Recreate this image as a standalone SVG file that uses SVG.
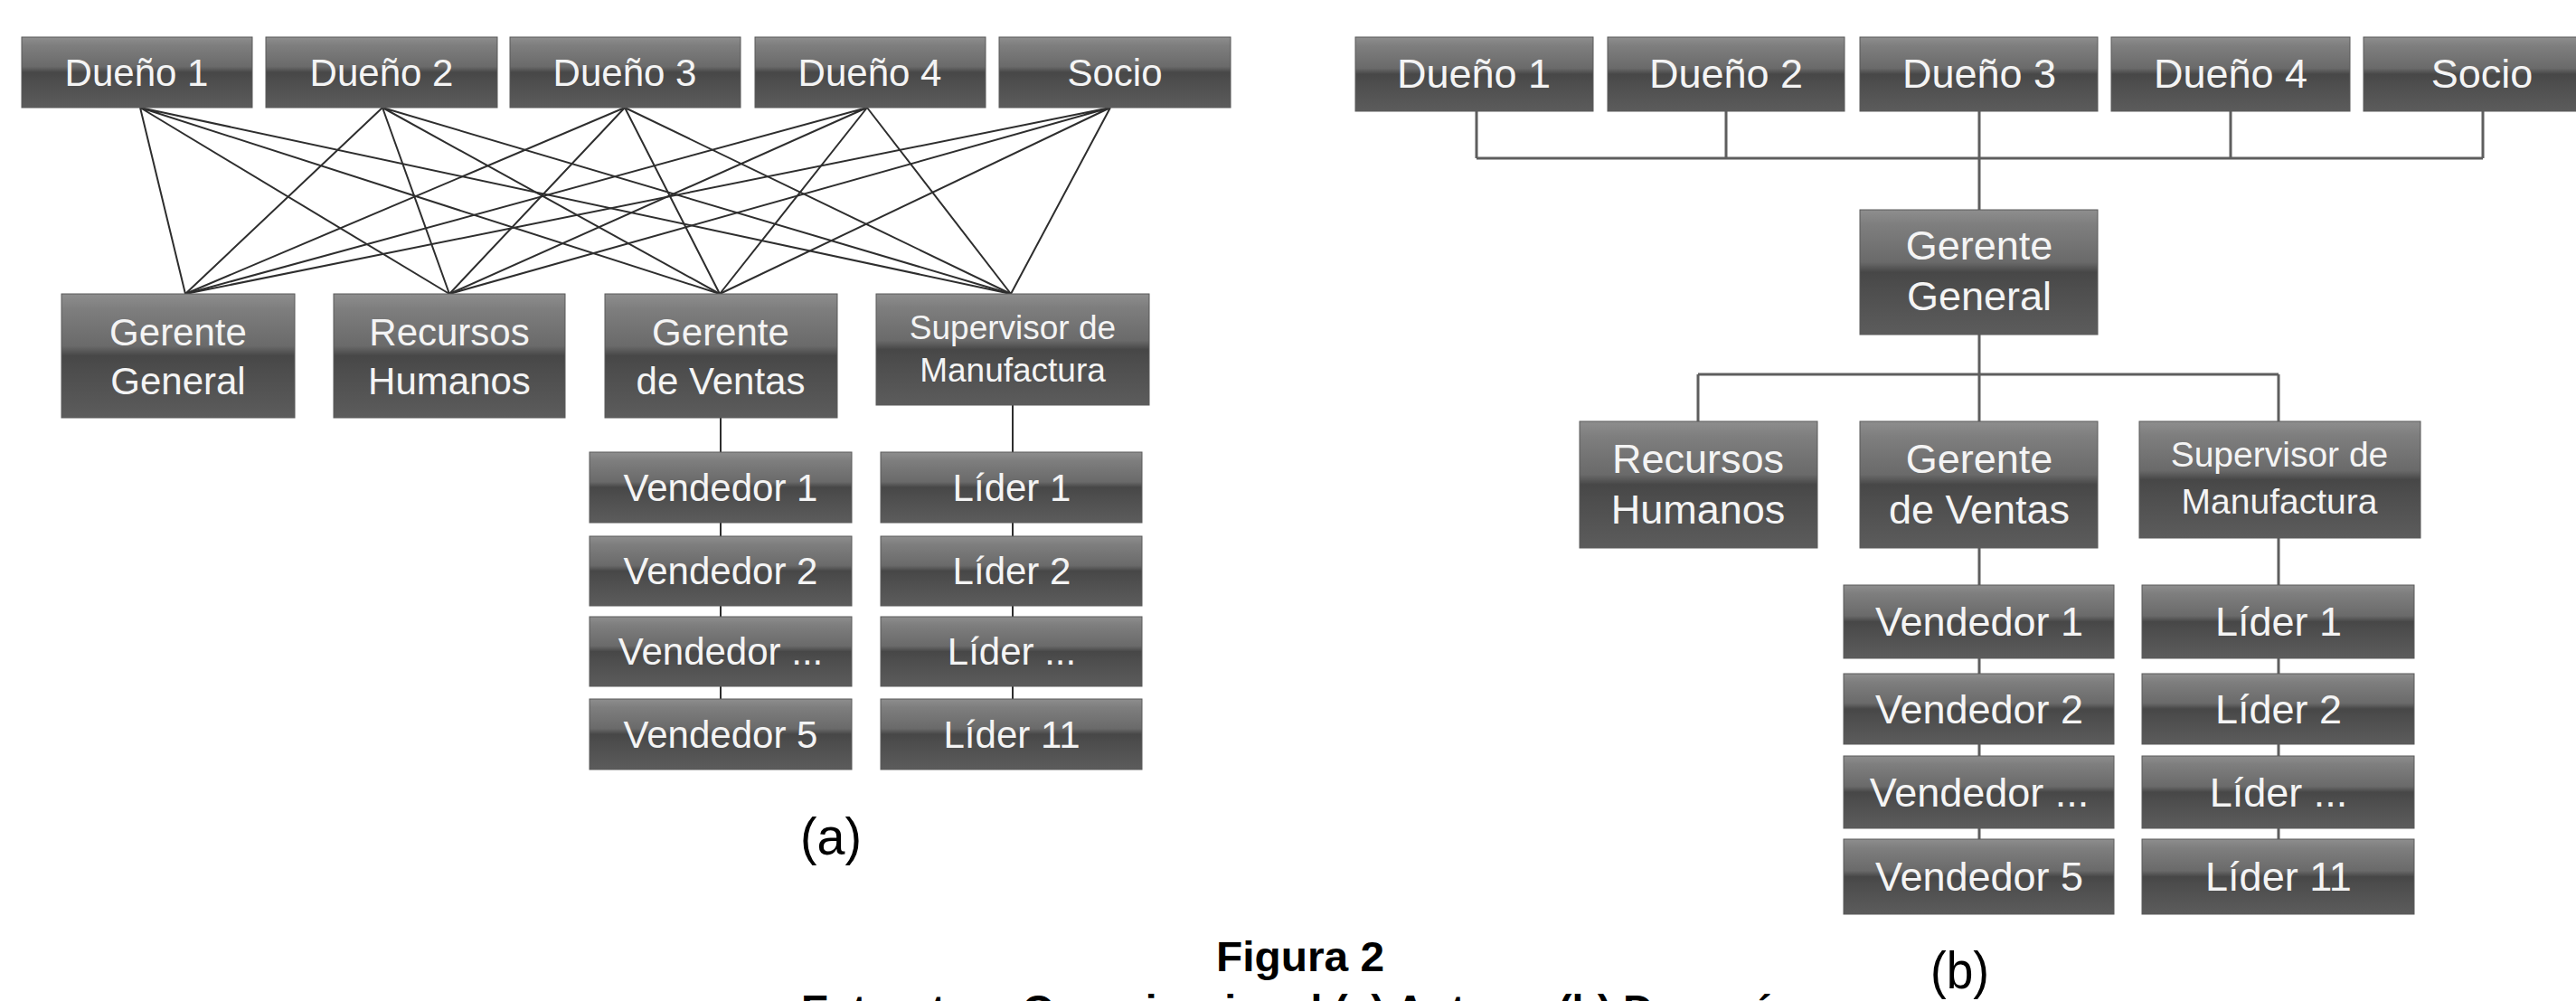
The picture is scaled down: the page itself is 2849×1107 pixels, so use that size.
<svg xmlns="http://www.w3.org/2000/svg" width="2849" height="1107" viewBox="0 0 2849 1107">
<defs>
<linearGradient id="boxg" x1="0" y1="0" x2="0" y2="1">
<stop offset="0" stop-color="#8e8e8e"/>
<stop offset="0.12" stop-color="#7e7e7e"/>
<stop offset="0.42" stop-color="#6a6a6a"/>
<stop offset="0.5" stop-color="#474747"/>
<stop offset="0.62" stop-color="#4d4d4d"/>
<stop offset="1" stop-color="#5c5c5c"/>
</linearGradient>
<style>
.box{fill:url(#boxg);stroke:#5a5a5a;stroke-width:1}
.t{font-family:"Liberation Sans",Arial,sans-serif;fill:#f4f4f4;text-anchor:middle;font-size:42px}
.tr{font-size:45px}
.ts{font-size:37px}
.tsr{font-size:39px}
.la{stroke:#2e2e2e;stroke-width:2;fill:none}
.lb{stroke:#5e5e5e;stroke-width:3;fill:none}
.cap{font-family:"Liberation Sans",Arial,sans-serif;fill:#000}
</style>
</defs>
<rect width="2849" height="1107" fill="#ffffff"/>

<g id="connectors-a">
<path class="la" d="M155 119L205 325M155 119L497 325M155 119L796 325M155 119L1118 325"/>
<path class="la" d="M423 119L205 325M423 119L497 325M423 119L796 325M423 119L1118 325"/>
<path class="la" d="M691 119L205 325M691 119L497 325M691 119L796 325M691 119L1118 325"/>
<path class="la" d="M959 119L205 325M959 119L497 325M959 119L796 325M959 119L1118 325"/>
<path class="la" d="M1228 119L205 325M1228 119L497 325M1228 119L796 325M1228 119L1118 325"/>
<path class="la" d="M797 462V773M1120 448V773"/>
</g>

<g id="connectors-b">
<path class="lb" d="M1633 123V175M1909 123V175M2467 123V175M2746 123V175M1633 175H2746"/>
<path class="lb" d="M2189 123V232M2189 370V466M1878 414H2520M1878 414V466M2520 414V466"/>
<path class="lb" d="M2189 606V928M2520 595V928"/>
</g>

<!-- Diagram (a) -->
<g id="a-dueno1"><rect class="box" x="24" y="41" width="255" height="78"/><text class="t" x="151" y="95">Dueño 1</text></g>
<g id="a-dueno2"><rect class="box" x="294" y="41" width="256" height="78"/><text class="t" x="422" y="95">Dueño 2</text></g>
<g id="a-dueno3"><rect class="box" x="564" y="41" width="255" height="78"/><text class="t" x="691" y="95">Dueño 3</text></g>
<g id="a-dueno4"><rect class="box" x="835" y="41" width="255" height="78"/><text class="t" x="962" y="95">Dueño 4</text></g>
<g id="a-socio"><rect class="box" x="1105" y="41" width="256" height="78"/><text class="t" x="1233" y="95">Socio</text></g>

<g id="a-gerente-general"><rect class="box" x="68" y="325" width="258" height="137"/><text class="t" x="197" y="382">Gerente</text><text class="t" x="197" y="436">General</text></g>
<g id="a-recursos-humanos"><rect class="box" x="369" y="325" width="256" height="137"/><text class="t" x="497" y="382">Recursos</text><text class="t" x="497" y="436">Humanos</text></g>
<g id="a-gerente-ventas"><rect class="box" x="669" y="325" width="257" height="137"/><text class="t" x="797" y="382">Gerente</text><text class="t" x="797" y="436">de Ventas</text></g>
<g id="a-supervisor"><rect class="box" x="969" y="325" width="302" height="123"/><text class="t ts" x="1120" y="375">Supervisor de</text><text class="t ts" x="1120" y="422">Manufactura</text></g>

<g id="a-vendedor1"><rect class="box" x="652" y="500" width="290" height="78"/><text class="t" x="797" y="554">Vendedor 1</text></g>
<g id="a-vendedor2"><rect class="box" x="652" y="593" width="290" height="77"/><text class="t" x="797" y="646">Vendedor 2</text></g>
<g id="a-vendedor3"><rect class="box" x="652" y="682" width="290" height="77"/><text class="t" x="797" y="735">Vendedor ...</text></g>
<g id="a-vendedor5"><rect class="box" x="652" y="773" width="290" height="78"/><text class="t" x="797" y="827">Vendedor 5</text></g>

<g id="a-lider1"><rect class="box" x="974" y="500" width="289" height="78"/><text class="t" x="1119" y="554">Líder 1</text></g>
<g id="a-lider2"><rect class="box" x="974" y="593" width="289" height="77"/><text class="t" x="1119" y="646">Líder 2</text></g>
<g id="a-lider3"><rect class="box" x="974" y="682" width="289" height="77"/><text class="t" x="1119" y="735">Líder ...</text></g>
<g id="a-lider11"><rect class="box" x="974" y="773" width="289" height="78"/><text class="t" x="1119" y="827">Líder 11</text></g>

<!-- Diagram (b) -->
<g id="b-dueno1"><rect class="box" x="1499" y="41" width="263" height="82"/><text class="t tr" x="1630" y="97">Dueño 1</text></g>
<g id="b-dueno2"><rect class="box" x="1778" y="41" width="262" height="82"/><text class="t tr" x="1909" y="97">Dueño 2</text></g>
<g id="b-dueno3"><rect class="box" x="2057" y="41" width="263" height="82"/><text class="t tr" x="2189" y="97">Dueño 3</text></g>
<g id="b-dueno4"><rect class="box" x="2335" y="41" width="264" height="82"/><text class="t tr" x="2467" y="97">Dueño 4</text></g>
<g id="b-socio"><rect class="box" x="2614" y="41" width="264" height="82"/><text class="t tr" x="2745" y="97">Socio</text></g>

<g id="b-gerente-general"><rect class="box" x="2057" y="232" width="263" height="138"/><text class="t tr" x="2189" y="287">Gerente</text><text class="t tr" x="2189" y="343">General</text></g>

<g id="b-recursos-humanos"><rect class="box" x="1747" y="466" width="263" height="140"/><text class="t tr" x="1878" y="523">Recursos</text><text class="t tr" x="1878" y="579">Humanos</text></g>
<g id="b-gerente-ventas"><rect class="box" x="2057" y="466" width="263" height="140"/><text class="t tr" x="2189" y="523">Gerente</text><text class="t tr" x="2189" y="579">de Ventas</text></g>
<g id="b-supervisor"><rect class="box" x="2366" y="466" width="311" height="129"/><text class="t tsr" x="2521" y="516">Supervisor de</text><text class="t tsr" x="2521" y="568">Manufactura</text></g>

<g id="b-vendedor1"><rect class="box" x="2039" y="647" width="299" height="81"/><text class="t tr" x="2189" y="703">Vendedor 1</text></g>
<g id="b-vendedor2"><rect class="box" x="2039" y="745" width="299" height="78"/><text class="t tr" x="2189" y="800">Vendedor 2</text></g>
<g id="b-vendedor3"><rect class="box" x="2039" y="836" width="299" height="80"/><text class="t tr" x="2189" y="892">Vendedor ...</text></g>
<g id="b-vendedor5"><rect class="box" x="2039" y="928" width="299" height="83"/><text class="t tr" x="2189" y="985">Vendedor 5</text></g>

<g id="b-lider1"><rect class="box" x="2369" y="647" width="301" height="81"/><text class="t tr" x="2520" y="703">Líder 1</text></g>
<g id="b-lider2"><rect class="box" x="2369" y="745" width="301" height="78"/><text class="t tr" x="2520" y="800">Líder 2</text></g>
<g id="b-lider3"><rect class="box" x="2369" y="836" width="301" height="80"/><text class="t tr" x="2520" y="892">Líder ...</text></g>
<g id="b-lider11"><rect class="box" x="2369" y="928" width="301" height="83"/><text class="t tr" x="2520" y="985">Líder 11</text></g>

<!-- Labels and caption -->
<text class="cap" x="885" y="945" font-size="58" textLength="68" lengthAdjust="spacingAndGlyphs">(a)</text>
<text class="cap" x="2135" y="1093" font-size="58" textLength="65" lengthAdjust="spacingAndGlyphs">(b)</text>
<text class="cap" x="1345" y="1074" font-size="47" font-weight="bold" textLength="186" lengthAdjust="spacingAndGlyphs">Figura 2</text>
<text class="cap" x="886" y="1133" font-size="47" font-weight="bold" textLength="1102" lengthAdjust="spacingAndGlyphs">Estructura Organizacional (a) Antes y (b) Después</text>
</svg>
